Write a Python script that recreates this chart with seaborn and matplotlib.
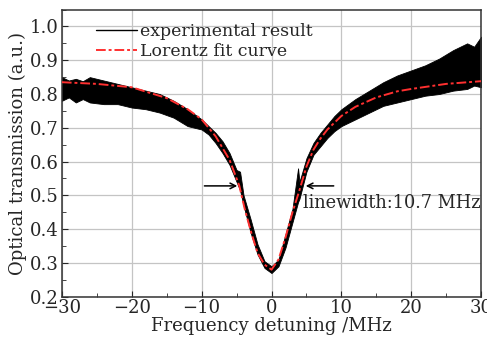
import numpy as np
import pandas as pd
import matplotlib
matplotlib.use('Agg')
import matplotlib.pyplot as plt
from matplotlib.ticker import MultipleLocator
import seaborn as sns

# Lorentz fit curve
fit_x = [-30, -25, -20, -15, -12, -10, -8, -6, -4.6, -3.8, -2.9, -2, -1, 0,
         1, 2, 3, 4, 5, 6, 7, 8, 10, 12, 15, 18, 20, 25, 30]
fit_y = [0.835, 0.83, 0.82, 0.788, 0.755, 0.725, 0.675, 0.605, 0.528, 0.457, 0.39, 0.33, 0.295, 0.28,
         0.31, 0.375, 0.45, 0.515, 0.585, 0.635, 0.668, 0.695, 0.735, 0.762, 0.79, 0.808, 0.815, 0.83, 0.838]

# experimental trace: upper / lower envelope of the noisy signal
exp_x = [-30, -29, -28, -27, -26, -24, -22, -20, -18, -16, -14, -12, -10, -9, -8, -7, -6, -5, -4.5, -4,
         -3, -2, -1, 0, 1, 2, 3, 3.8, 4, 5, 6, 7, 8, 9, 10, 12, 14, 16, 18, 20, 22, 24, 26, 28, 29, 30]
exp_hi = [0.85, 0.84, 0.845, 0.838, 0.85, 0.84, 0.83, 0.82, 0.81, 0.80, 0.78, 0.755, 0.725, 0.705,
          0.685, 0.66, 0.625, 0.575, 0.57, 0.50, 0.43, 0.355, 0.305, 0.29, 0.31, 0.385, 0.46, 0.58,
          0.54, 0.61, 0.655, 0.685, 0.71, 0.735, 0.755, 0.785, 0.81, 0.835, 0.855, 0.87, 0.885, 0.905,
          0.93, 0.95, 0.94, 0.97]
exp_lo = [0.78, 0.79, 0.775, 0.785, 0.775, 0.77, 0.77, 0.76, 0.755, 0.745, 0.73, 0.705, 0.695, 0.68,
          0.655, 0.625, 0.59, 0.54, 0.515, 0.47, 0.39, 0.325, 0.285, 0.27, 0.29, 0.345, 0.42, 0.48,
          0.49, 0.57, 0.62, 0.645, 0.67, 0.69, 0.705, 0.725, 0.745, 0.765, 0.775, 0.785, 0.795, 0.80,
          0.81, 0.815, 0.825, 0.82]

sns.set_style('ticks')
plt.rcParams['font.family'] = ['DejaVu Serif']
plt.rcParams['mathtext.fontset'] = 'dejavuserif'

fig = plt.figure(figsize=(4.87, 3.42), dpi=100)
ax = fig.add_axes([0.127, 0.1325, 0.861, 0.8395])

ax.fill_between(exp_x, exp_lo, exp_hi, color='black', lw=0.6, zorder=2)
ax.plot([], [], color='black', lw=1.0, label='experimental result')

df_fit = pd.DataFrame({'x': fit_x, 'y': fit_y})
sns.lineplot(data=df_fit, x='x', y='y', ax=ax, color='#ff3030', lw=1.4,
             dashes=False, label='Lorentz fit curve', zorder=3)
ax.lines[-1].set_dashes((5, 1.5, 1.5, 1.5))

ax.set_xlim(-30, 30)
ax.set_ylim(0.2, 1.05)
ax.xaxis.set_minor_locator(MultipleLocator(5))
ax.yaxis.set_minor_locator(MultipleLocator(0.05))
ax.set_yticks(np.arange(0.2, 1.01, 0.1))
ax.set_yticklabels([f'{v:.1f}' for v in np.arange(0.2, 1.01, 0.1)])
ax.set_xticks([-30, -20, -10, 0, 10, 20, 30])
ax.set_xticklabels(['\u221230', '\u221220', '\u221210', '0', '10', '20', '30'])
ax.tick_params(which='both', direction='in', labelsize=13, pad=2)
ax.tick_params(which='major', length=4)
ax.tick_params(which='minor', length=3)
ax.grid(True, which='major', color='#c4c4c4', lw=0.9)
ax.set_axisbelow(True)
for s in ax.spines.values():
    s.set_color('#333333')
    s.set_linewidth(1.1)

ax.set_xlabel('Frequency detuning /MHz', fontsize=13, labelpad=0)
ax.set_ylabel('Optical transmission (a.u.)', fontsize=13, labelpad=2)

ax.annotate('', xy=(-4.5, 0.528), xytext=(-10, 0.528),
            arrowprops=dict(arrowstyle='->', color='black', lw=1.1))
ax.annotate('', xy=(4.5, 0.528), xytext=(9.3, 0.528),
            arrowprops=dict(arrowstyle='->', color='black', lw=1.1))
ax.text(4.5, 0.478, 'linewidth:10.7 MHz', fontsize=12.8, va='center', ha='left')

leg = ax.legend(loc='upper left', bbox_to_anchor=(0.052, 0.995), frameon=False, fontsize=12.5,
                handlelength=2.4, handletextpad=0.15, borderpad=0.2, labelspacing=0.15)
leg.get_lines()[1].set_dashes((5, 1.5, 1.5, 1.5))

fig.savefig('out.png', dpi=100)
